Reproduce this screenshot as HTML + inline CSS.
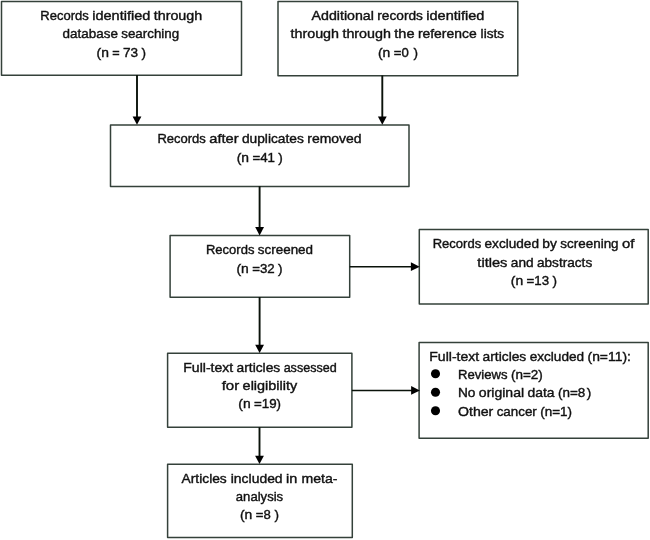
<!DOCTYPE html>
<html><head><meta charset="utf-8"><title>Flow diagram</title>
<style>html,body{margin:0;padding:0;background:#fff}svg{display:block;will-change:transform}text{font-family:"Liberation Sans",sans-serif;font-size:13.4px;fill:#111;stroke:#111;stroke-width:0.4px}</style></head>
<body>
<svg width="650" height="540" viewBox="0 0 650 540">
<rect width="650" height="540" fill="#fff"/>
<rect x="1.50" y="1.50" width="240.00" height="73.80" fill="#fff" stroke="#34413a" stroke-width="1.5" stroke-linejoin="round"/>
<rect x="278.00" y="1.50" width="239.80" height="74.20" fill="#fff" stroke="#34413a" stroke-width="1.5" stroke-linejoin="round"/>
<rect x="110.50" y="125.00" width="298.50" height="61.40" fill="#fff" stroke="#34413a" stroke-width="1.5" stroke-linejoin="round"/>
<rect x="170.10" y="235.60" width="179.60" height="61.60" fill="#fff" stroke="#34413a" stroke-width="1.5" stroke-linejoin="round"/>
<rect x="419.30" y="229.60" width="228.90" height="74.30" fill="#fff" stroke="#34413a" stroke-width="1.5" stroke-linejoin="round"/>
<rect x="167.60" y="353.20" width="184.30" height="74.10" fill="#fff" stroke="#34413a" stroke-width="1.5" stroke-linejoin="round"/>
<rect x="419.10" y="342.60" width="229.10" height="95.70" fill="#fff" stroke="#34413a" stroke-width="1.5" stroke-linejoin="round"/>
<rect x="167.60" y="464.20" width="184.70" height="73.40" fill="#fff" stroke="#34413a" stroke-width="1.5" stroke-linejoin="round"/>
<line x1="137.00" y1="75.00" x2="137.00" y2="118.80" stroke="#0a120a" stroke-width="1.9"/>
<polygon points="132.60,116.40 141.40,116.40 137.00,124.80" fill="#000"/>
<line x1="382.30" y1="75.50" x2="382.30" y2="118.80" stroke="#0a120a" stroke-width="1.9"/>
<polygon points="377.90,116.40 386.70,116.40 382.30,124.80" fill="#000"/>
<line x1="259.60" y1="186.20" x2="259.60" y2="229.40" stroke="#0a120a" stroke-width="1.9"/>
<polygon points="255.20,227.00 264.00,227.00 259.60,235.40" fill="#000"/>
<line x1="259.60" y1="297.00" x2="259.60" y2="347.10" stroke="#0a120a" stroke-width="1.9"/>
<polygon points="255.20,344.70 264.00,344.70 259.60,353.10" fill="#000"/>
<line x1="259.50" y1="427.20" x2="259.50" y2="458.10" stroke="#0a120a" stroke-width="1.9"/>
<polygon points="255.10,455.70 263.90,455.70 259.50,464.10" fill="#000"/>
<line x1="349.70" y1="266.70" x2="413.70" y2="266.70" stroke="#0a120a" stroke-width="1.45"/>
<polygon points="410.90,262.30 410.90,271.10 419.70,266.70" fill="#000"/>
<line x1="351.90" y1="390.40" x2="413.90" y2="390.40" stroke="#0a120a" stroke-width="1.45"/>
<polygon points="411.10,386.00 411.10,394.80 419.90,390.40" fill="#000"/>
<circle cx="435.50" cy="373.80" r="4.55" fill="#000"/>
<circle cx="435.50" cy="392.20" r="4.55" fill="#000"/>
<circle cx="435.50" cy="410.80" r="4.55" fill="#000"/>
<text y="20.20"><tspan x="40.35" textLength="48.51" lengthAdjust="spacingAndGlyphs">Records</tspan> <tspan x="92.23" textLength="58.11" lengthAdjust="spacingAndGlyphs">identified</tspan> <tspan x="153.71" textLength="48.54" lengthAdjust="spacingAndGlyphs">through</tspan></text>
<text y="38.40"><tspan x="62.58" textLength="55.30" lengthAdjust="spacingAndGlyphs">database</tspan> <tspan x="121.25" textLength="57.96" lengthAdjust="spacingAndGlyphs">searching</tspan></text>
<text y="56.60"><tspan x="96.55" textLength="12.35" lengthAdjust="spacingAndGlyphs">(n</tspan> <tspan x="112.27" textLength="7.42" lengthAdjust="spacingAndGlyphs">=</tspan> <tspan x="123.06" textLength="15.10" lengthAdjust="spacingAndGlyphs">73</tspan> <tspan x="141.53" textLength="4.52" lengthAdjust="spacingAndGlyphs">)</tspan></text>
<text y="20.20"><tspan x="311.59" textLength="62.35" lengthAdjust="spacingAndGlyphs">Additional</tspan> <tspan x="377.31" textLength="45.62" lengthAdjust="spacingAndGlyphs">records</tspan> <tspan x="426.30" textLength="58.11" lengthAdjust="spacingAndGlyphs">identified</tspan></text>
<text y="38.30"><tspan x="290.50" textLength="48.54" lengthAdjust="spacingAndGlyphs">through</tspan> <tspan x="342.41" textLength="48.54" lengthAdjust="spacingAndGlyphs">through</tspan> <tspan x="394.32" textLength="20.23" lengthAdjust="spacingAndGlyphs">the</tspan> <tspan x="417.92" textLength="58.72" lengthAdjust="spacingAndGlyphs">reference</tspan> <tspan x="480.61" textLength="23.48" lengthAdjust="spacingAndGlyphs">lists</tspan></text>
<text y="56.80"><tspan x="378.01" textLength="12.35" lengthAdjust="spacingAndGlyphs">(n</tspan> <tspan x="393.73" textLength="14.97" lengthAdjust="spacingAndGlyphs">=0</tspan> <tspan x="413.47" textLength="4.52" lengthAdjust="spacingAndGlyphs">)</tspan></text>
<text y="143.30"><tspan x="157.38" textLength="48.51" lengthAdjust="spacingAndGlyphs">Records</tspan> <tspan x="209.26" textLength="29.28" lengthAdjust="spacingAndGlyphs">after</tspan> <tspan x="241.92" textLength="61.99" lengthAdjust="spacingAndGlyphs">duplicates</tspan> <tspan x="307.28" textLength="54.34" lengthAdjust="spacingAndGlyphs">removed</tspan></text>
<text y="161.80"><tspan x="236.74" textLength="12.35" lengthAdjust="spacingAndGlyphs">(n</tspan> <tspan x="252.45" textLength="22.52" lengthAdjust="spacingAndGlyphs">=41</tspan> <tspan x="278.34" textLength="4.52" lengthAdjust="spacingAndGlyphs">)</tspan></text>
<text y="254.00"><tspan x="205.95" textLength="48.51" lengthAdjust="spacingAndGlyphs">Records</tspan> <tspan x="257.83" textLength="55.22" lengthAdjust="spacingAndGlyphs">screened</tspan></text>
<text y="272.60"><tspan x="236.44" textLength="12.35" lengthAdjust="spacingAndGlyphs">(n</tspan> <tspan x="252.15" textLength="22.52" lengthAdjust="spacingAndGlyphs">=32</tspan> <tspan x="278.04" textLength="4.52" lengthAdjust="spacingAndGlyphs">)</tspan></text>
<text y="248.40"><tspan x="432.66" textLength="48.51" lengthAdjust="spacingAndGlyphs">Records</tspan> <tspan x="484.54" textLength="54.49" lengthAdjust="spacingAndGlyphs">excluded</tspan> <tspan x="542.39" textLength="14.57" lengthAdjust="spacingAndGlyphs">by</tspan> <tspan x="560.33" textLength="58.24" lengthAdjust="spacingAndGlyphs">screening</tspan> <tspan x="621.94" textLength="12.40" lengthAdjust="spacingAndGlyphs">of</tspan></text>
<text y="266.80"><tspan x="477.39" textLength="30.06" lengthAdjust="spacingAndGlyphs">titles</tspan> <tspan x="510.82" textLength="22.79" lengthAdjust="spacingAndGlyphs">and</tspan> <tspan x="536.98" textLength="55.23" lengthAdjust="spacingAndGlyphs">abstracts</tspan></text>
<text y="285.20"><tspan x="510.84" textLength="12.35" lengthAdjust="spacingAndGlyphs">(n</tspan> <tspan x="526.55" textLength="22.52" lengthAdjust="spacingAndGlyphs">=13</tspan> <tspan x="552.44" textLength="4.52" lengthAdjust="spacingAndGlyphs">)</tspan></text>
<text y="371.70"><tspan x="183.27" textLength="49.92" lengthAdjust="spacingAndGlyphs">Full-text</tspan> <tspan x="236.56" textLength="43.70" lengthAdjust="spacingAndGlyphs">articles</tspan> <tspan x="283.63" textLength="53.10" lengthAdjust="spacingAndGlyphs">assessed</tspan></text>
<text y="389.90"><tspan x="221.66" textLength="17.60" lengthAdjust="spacingAndGlyphs">for</tspan> <tspan x="242.63" textLength="54.51" lengthAdjust="spacingAndGlyphs">eligibility</tspan></text>
<text y="408.10"><tspan x="238.32" textLength="12.35" lengthAdjust="spacingAndGlyphs">(n</tspan> <tspan x="254.04" textLength="27.04" lengthAdjust="spacingAndGlyphs">=19)</tspan></text>
<text y="360.60"><tspan x="429.30" textLength="49.92" lengthAdjust="spacingAndGlyphs">Full-text</tspan> <tspan x="482.59" textLength="43.70" lengthAdjust="spacingAndGlyphs">articles</tspan> <tspan x="529.66" textLength="54.49" lengthAdjust="spacingAndGlyphs">excluded</tspan> <tspan x="587.52" textLength="43.38" lengthAdjust="spacingAndGlyphs">(n=11):</tspan></text>
<text y="378.80"><tspan x="458.00" textLength="49.55" lengthAdjust="spacingAndGlyphs">Reviews</tspan> <tspan x="510.91" textLength="31.84" lengthAdjust="spacingAndGlyphs">(n=2)</tspan></text>
<text y="397.20"><tspan x="458.00" textLength="17.48" lengthAdjust="spacingAndGlyphs">No</tspan> <tspan x="478.84" textLength="45.29" lengthAdjust="spacingAndGlyphs">original</tspan> <tspan x="527.50" textLength="27.09" lengthAdjust="spacingAndGlyphs">data</tspan> <tspan x="557.96" textLength="27.32" lengthAdjust="spacingAndGlyphs">(n=8</tspan> <tspan x="586.65" textLength="4.52" lengthAdjust="spacingAndGlyphs">)</tspan></text>
<text y="415.80"><tspan x="458.00" textLength="35.29" lengthAdjust="spacingAndGlyphs">Other</tspan> <tspan x="496.66" textLength="40.17" lengthAdjust="spacingAndGlyphs">cancer</tspan> <tspan x="540.20" textLength="31.84" lengthAdjust="spacingAndGlyphs">(n=1)</tspan></text>
<text y="482.60"><tspan x="181.59" textLength="45.19" lengthAdjust="spacingAndGlyphs">Articles</tspan> <tspan x="230.75" textLength="51.87" lengthAdjust="spacingAndGlyphs">included</tspan> <tspan x="285.98" textLength="11.25" lengthAdjust="spacingAndGlyphs">in</tspan> <tspan x="301.50" textLength="36.01" lengthAdjust="spacingAndGlyphs">meta-</tspan></text>
<text y="500.80"><tspan x="235.83" textLength="47.34" lengthAdjust="spacingAndGlyphs">analysis</tspan></text>
<text y="519.30"><tspan x="240.01" textLength="12.35" lengthAdjust="spacingAndGlyphs">(n</tspan> <tspan x="255.73" textLength="14.97" lengthAdjust="spacingAndGlyphs">=8</tspan> <tspan x="274.47" textLength="4.52" lengthAdjust="spacingAndGlyphs">)</tspan></text>
</svg>
</body></html>
